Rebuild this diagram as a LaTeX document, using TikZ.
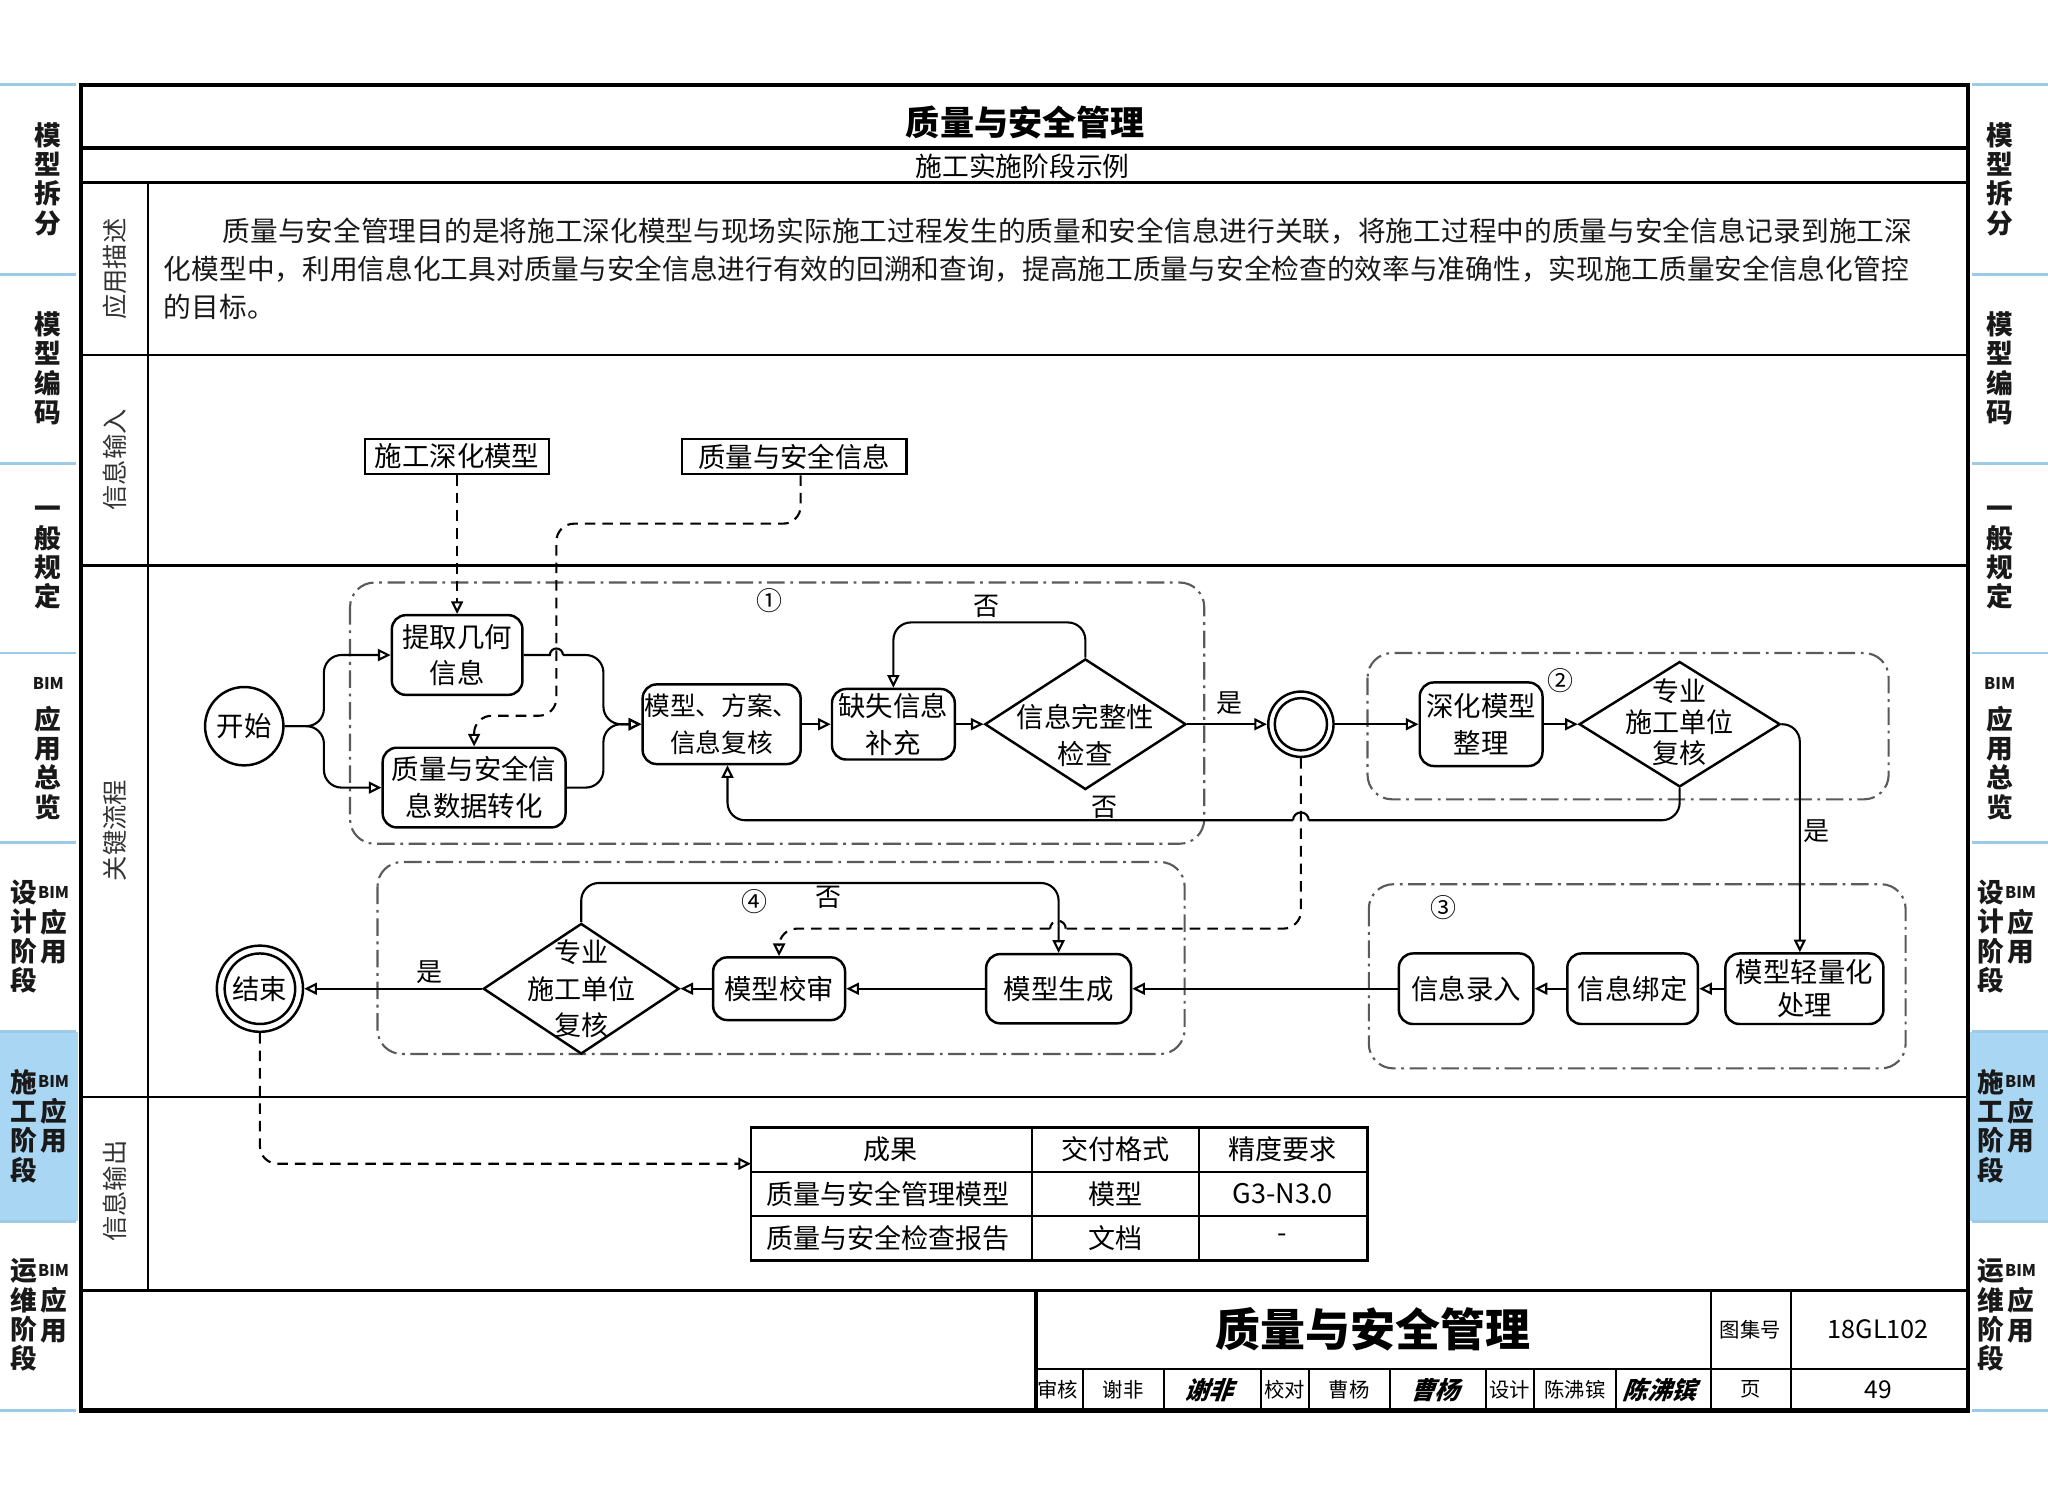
\documentclass[tikz,border=0pt]{standalone}
\usepackage{fontspec}
\setmainfont{Noto Sans CJK SC}
\usetikzlibrary{arrows.meta, shapes.geometric}
\newcommand\myfs[2]{\fontsize{#1pt}{#2pt}\selectfont}
\def\rpx{0.013061cm}
\definecolor{tabblue}{HTML}{A9D6F2}
\definecolor{tabline}{HTML}{9CCBE8}
\definecolor{grpgray}{HTML}{5A5A5A}
\tikzset{
  sz/.style 2 args={minimum width={#1*\rpx}, minimum height={#2*\rpx}},
  tip/.style={-{Triangle[open,length=3.6pt,width=3.4pt]}},
  flow/.style={line width=0.6pt, tip},
  plain/.style={line width=0.6pt},
  dline/.style={line width=0.6pt, dash pattern=on 3pt off 2pt},
  dflow/.style={dline, tip},
  grp/.style={draw=grpgray, line width=0.6pt, dash pattern=on 5pt off 1.6pt on 0.8pt off 1.6pt, rounded corners=7pt},
  proc/.style={draw, line width=0.7pt, rounded corners=4pt, inner sep=0pt, align=center, font=\myfs{7.8}{10.4}},
  inbox/.style={draw, line width=0.7pt, inner sep=0pt, font=\myfs{7.8}{9}},
  dia/.style={draw, diamond, line width=0.7pt, inner sep=0pt},
  dtxt/.style={inner sep=0pt, align=center, font=\myfs{7.7}{8.7}},
  circ/.style={draw, circle, line width=0.7pt, inner sep=0pt, font=\myfs{7.8}{9}},
  lbl/.style={inner sep=0pt, font=\myfs{7.4}{8}},
  tabt/.style={inner sep=0pt, align=center, font=\myfs{7.6}{8.35}\bfseries, text=black!90},
  bimt/.style={inner sep=0pt, font=\myfs{4.6}{5}\bfseries, text=black!90},
  sec/.style={inner sep=0pt, rotate=90, font=\myfs{7.2}{8}, text=black!80},
  desc/.style={inner sep=0pt, anchor=west, font=\myfs{7.88}{9}, text=black!90},
  cell/.style={inner sep=0pt, font=\myfs{7.7}{8}},
  tbs/.style={inner sep=0pt, font=\myfs{5.8}{6}},
  sig/.style={inner sep=0pt, font=\myfs{7}{7}\bfseries, xslant=0.35},
}
\begin{document}
\begin{tikzpicture}[x=0.013061cm, y=-0.013061cm]
\fill[white] (0,0) rectangle (1568,1143);
\useasboundingbox (0,0) rectangle (1568,1143);

% ---------- side tabs ----------
\fill[tabblue] (0,790) rectangle (60,935);
\fill[tabblue] (1508,790) rectangle (1568,935);
\foreach \yy in {65,210,355,500,645,790,935,1080} {
  \draw[tabline, line width=0.8pt] (0,\yy) -- (58,\yy);
  \draw[tabline, line width=0.8pt] (1510,\yy) -- (1568,\yy);
}
% left
\node[tabt] (tl1) at (37,137) {模\\型\\拆\\分};
\node[tabt] (tl2) at (37,282) {模\\型\\编\\码};
\node[tabt] (tl3) at (37,427) {一\\般\\规\\定};
\node[bimt] (tl4b) at (37,523) {BIM};
\node[tabt] (tl4) at (37,584) {应\\用\\总\\览};
\node[tabt] (tl5) at (18,717) {设\\计\\阶\\段};
\node[bimt] (tl5b) at (41,683) {BIM};
\node[tabt] (tl5c) at (41,717) {应\\用};
\node[tabt] (tl6) at (18,862) {施\\工\\阶\\段};
\node[bimt] (tl6b) at (41,828) {BIM};
\node[tabt] (tl6c) at (41,862) {应\\用};
\node[tabt] (tl7) at (18,1007) {运\\维\\阶\\段};
\node[bimt] (tl7b) at (41,973) {BIM};
\node[tabt] (tl7c) at (41,1007) {应\\用};
% right
\node[tabt] (tr1) at (1531,137) {模\\型\\拆\\分};
\node[tabt] (tr2) at (1531,282) {模\\型\\编\\码};
\node[tabt] (tr3) at (1531,427) {一\\般\\规\\定};
\node[bimt] (tr4b) at (1531,523) {BIM};
\node[tabt] (tr4) at (1531,584) {应\\用\\总\\览};
\node[tabt] (tr5) at (1524,717) {设\\计\\阶\\段};
\node[bimt] (tr5b) at (1547,683) {BIM};
\node[tabt] (tr5c) at (1547,717) {应\\用};
\node[tabt] (tr6) at (1524,862) {施\\工\\阶\\段};
\node[bimt] (tr6b) at (1547,828) {BIM};
\node[tabt] (tr6c) at (1547,862) {应\\用};
\node[tabt] (tr7) at (1524,1007) {运\\维\\阶\\段};
\node[bimt] (tr7b) at (1547,973) {BIM};
\node[tabt] (tr7c) at (1547,1007) {应\\用};

% ---------- frame ----------
\draw[line width=1.2pt] (62,65) rectangle (1507,1080);
\draw[line width=1.1pt] (62,113) -- (1507,113);
\draw[line width=0.8pt] (62,140) -- (1507,140);
\draw[line width=0.6pt] (62,272) -- (1507,272);
\draw[line width=0.6pt] (62,433) -- (1507,433);
\draw[line width=0.6pt] (62,840) -- (1507,840);
\draw[line width=1.1pt] (62,988) -- (1507,988);
\draw[line width=0.6pt] (113,140) -- (113,988);

\node[inner sep=0pt, font=\myfs{9.7}{10}\bfseries] (ttl) at (785,94) {质量与安全管理};
\node[inner sep=0pt, font=\myfs{7.6}{8}] (sub) at (783,127) {施工实施阶段示例};

\node[sec] (s1) at (88,206) {应用描述};
\node[sec] (s2) at (88,352) {信息输入};
\node[sec] (s3) at (88,636) {关键流程};
\node[sec] (s4) at (88,912) {信息输出};

\node[desc] (p1) at (170,177) {质量与安全管理目的是将施工深化模型与现场实际施工过程发生的质量和安全信息进行关联，将施工过程中的质量与安全信息记录到施工深};
\node[desc] (p2) at (125,206) {化模型中，利用信息化工具对质量与安全信息进行有效的回溯和查询，提高施工质量与安全检查的效率与准确性，实现施工质量安全信息化管控};
\node[desc] (p3) at (125,235) {的目标。};

% ---------- group boxes ----------
\draw[grp] (268,446) rectangle (922,646);
\draw[grp] (1047,500) rectangle (1446,612);
\draw[grp] (1048,677) rectangle (1459,818);
\draw[grp] (289,660) rectangle (907,807);
\node[lbl] (n1) at (589,460) {①};
\node[lbl] (n2) at (1195,521) {②};
\node[lbl] (n3) at (1105,695) {③};
\node[lbl] (n4) at (578,690) {④};

% ---------- input nodes ----------
\node[inbox, sz={141}{27}] (in1) at (350,349.5) {施工深化模型};
\node[inbox, sz={172}{27}] (in2) at (608,349.5) {质量与安全信息};

% ---------- flow nodes ----------
\node[circ, minimum size={60*\rpx}] (start) at (187,556) {开始};
\node[proc, sz={100}{61}] (ex) at (350,501.5) {提取几何\\信息};
\node[proc, sz={140}{61}] (cv) at (363,603) {质量与安全信\\息数据转化};
\node[proc, sz={121}{61}, font=\myfs{7.3}{10.4}] (rv) at (552.5,554.5) {模型、方案、\\信息复核};
\node[proc, sz={94}{54}] (ms) at (684,554.5) {缺失信息\\补充};
\node[dia, sz={154}{100}] (d1) at (831,554.5) {};
\node[dtxt, font=\myfs{7.8}{10.6}] (d1t) at (831,563) {信息完整性\\检查};
\node[circ, minimum size={50*\rpx}] (o1) at (996,554.5) {};
\draw[line width=0.7pt] (o1.center) circle[radius=20];
\node[proc, sz={94}{64}] (dm) at (1134,554.5) {深化模型\\整理};
\node[dia, sz={154}{96}] (d2) at (1286,554.5) {};
\node[dtxt] (d2t) at (1286,553) {专业\\施工单位\\复核};

\node[proc, sz={121}{54}, font=\myfs{7.8}{9.6}] (lw) at (1381.5,757) {模型轻量化\\处理};
\node[proc, sz={100}{54}] (bd) at (1250,757) {信息绑定};
\node[proc, sz={103}{54}] (en) at (1122.5,757) {信息录入};
\node[proc, sz={111}{53}] (gen) at (810.5,757) {模型生成};
\node[proc, sz={101}{48}] (chk) at (596.5,757) {模型校审};
\node[dia, sz={150}{100}] (d3) at (445,757) {};
\node[dtxt, font=\myfs{7.7}{10.5}] (d3t) at (445,757) {专业\\施工单位\\复核};
\node[circ, minimum size={66*\rpx}] (fin) at (199,757) {结束};
\draw[line width=0.7pt] (fin.center) circle[radius=27];

% ---------- connectors ----------
\draw[flow, rounded corners=5pt] (start.east) -- (248,556) |- (ex.west);
\draw[flow, rounded corners=5pt] (start.east) -- (248,556) |- (cv.west);
\draw[plain] (ex.east) -- (421,501.5) arc[start angle=180, end angle=360, radius=5];
\draw[flow, rounded corners=5pt] (431,501.5) -| (462,554.5) -- (rv.west);
\draw[flow, rounded corners=5pt] (cv.east) -| (462,554.5) -- (rv.west);
\draw[flow] (rv.east) -- (ms.west);
\draw[flow] (ms.east) -- (d1.west);
\draw[flow, rounded corners=5pt] (d1.north) -- ++(0,-27) -| (ms.north);
\node[lbl] (no1) at (755,464) {否};
\draw[flow] (d1.east) -- (o1.west);
\node[lbl] (yes1) at (941,538) {是};
\draw[flow] (o1.east) -- (dm.west);
\draw[flow] (dm.east) -- (d2.west);
\draw[flow, rounded corners=5pt] (d2.east) -| ([xshift={-3.5*\rpx}]lw.north);
\node[lbl] (yes2) at (1391,636) {是};
\draw[plain, rounded corners=5pt] (d2.south) |- (1002,628);
\draw[plain] (1002,628) arc[start angle=0, end angle=-180, radius=6];
\draw[flow, rounded corners=5pt] (990,628) -| ([xshift={4.5*\rpx}]rv.south);
\node[lbl] (no2) at (846,618) {否};

\draw[dline, rounded corners=5pt] (o1.south) |- (816,711);
\draw[dline] (816,711) arc[start angle=0, end angle=-180, radius=6];
\draw[dflow, rounded corners=5pt] (804,711) -| (chk.north);

\draw[flow] (lw.west) -- (bd.east);
\draw[flow] (bd.west) -- (en.east);
\draw[flow] (en.west) -- (gen.east);
\draw[flow] (gen.west) -- (chk.east);
\draw[flow] (chk.west) -- (d3.east);
\draw[flow, rounded corners=5pt] (d3.north) -- ++(0,-30) -| (gen.north);
\node[lbl] (no3) at (634,687) {否};
\draw[flow] (d3.west) -- (fin.east);
\node[lbl] (yes3) at (329,744) {是};

\draw[dflow] (in1.south) -- (ex.north);
\draw[dflow, rounded corners=5pt] ([xshift={5*\rpx}]in2.south) -- ++(0,37) -| (426,548) -| (cv.north);

% ---------- output table ----------
\coordinate (tin) at (575,891);
\draw[dflow, rounded corners=5pt] (fin.south) |- (tin);
\draw[line width=0.8pt] (575,863) rectangle (1047,965);
\draw[line width=0.6pt] (575,897) -- (1047,897);
\draw[line width=0.6pt] (575,931) -- (1047,931);
\draw[line width=0.6pt] (790,863) -- (790,965);
\draw[line width=0.6pt] (918,863) -- (918,965);
\node[cell] (c11) at (682,880) {成果};
\node[cell] (c12) at (854,880) {交付格式};
\node[cell] (c13) at (982,880) {精度要求};
\node[cell] (c21) at (680,914) {质量与安全管理模型};
\node[cell] (c22) at (854,914) {模型};
\node[cell] (c23) at (982,914) {G3-N3.0};
\node[cell] (c31) at (680,948) {质量与安全检查报告};
\node[cell] (c32) at (854,948) {文档};
\node[cell] (c33) at (982,948) {-};

% ---------- title block ----------
\draw[line width=1.1pt] (793,988) -- (793,1080);
\draw[line width=0.6pt] (793,1048) -- (1507,1048);
\draw[line width=0.6pt] (1310,988) -- (1310,1080);
\draw[line width=0.6pt] (1371.5,988) -- (1371.5,1080);
\foreach \xx in {829,891,965.5,1002,1064,1138,1174.5,1237}
  \draw[line width=0.6pt] (\xx,1048) -- (\xx,1080);
\node[inner sep=0pt, font=\myfs{12.8}{13}\bfseries] (tb) at (1051,1018) {质量与安全管理};
\node[tbs] (tbk) at (1340,1018) {图集号};
\node[inner sep=0pt, font=\myfs{7.2}{8}] (tbn) at (1438,1018) {18GL102};
\node[tbs] (r1) at (810,1064) {审核};
\node[tbs] (r2) at (860,1064) {谢非};
\node[sig] (r3) at (928,1064) {谢非};
\node[tbs] (r4) at (983.5,1064) {校对};
\node[tbs] (r5) at (1033,1064) {曹杨};
\node[sig] (r6) at (1101,1064) {曹杨};
\node[tbs] (r7) at (1156,1064) {设计};
\node[tbs] (r8) at (1206,1064) {陈沸镔};
\node[sig] (r9) at (1273,1064) {陈沸镔};
\node[tbs] (r10) at (1340.5,1064) {页};
\node[inner sep=0pt, font=\myfs{7}{8}] (r11) at (1438,1064) {49};
\end{tikzpicture}
\end{document}
